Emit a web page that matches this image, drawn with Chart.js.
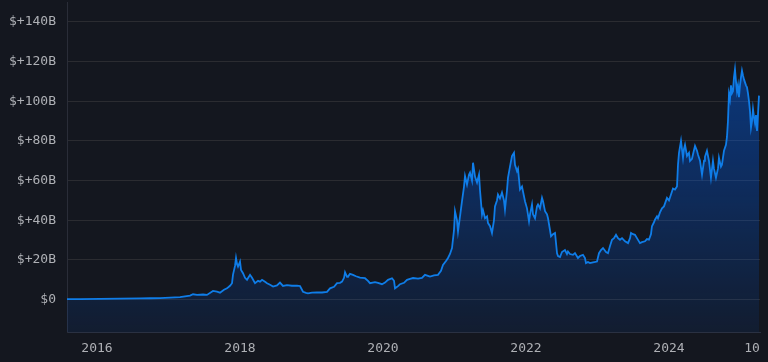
<!DOCTYPE html>
<html>
<head>
<meta charset="utf-8">
<script src="https://cdn.jsdelivr.net/npm/chart.js@4/dist/chart.umd.min.js"></script>
<style>
html,body{margin:0;padding:0;background:#14171f;}
canvas{display:block;}
</style>
</head>
<body>
<canvas id="c" width="768" height="362"></canvas>
<script>
// x positions, in decimal years
const pxX = [67,80,100,120,140,150,160,170,180,190,193,197,203,207,213,217,220,224,227,230,232,233,235,236,237,238,240,241,243,245,247,250,252,255,258,260,262,265,267,270,273,277,280,283,287,292,297,300,303,306,308,312,317,322,327,330,334,337,340,342,344,345,347,348,350,353,356,360,365,368,370,375,378,382,385,388,392,394,395,398,400,404,407,410,413,418,422,425,428,430,434,438,441,443,446,448,450,452,454,455,457,458,460,462,464,465,467,469,470,472,473,475,477,479,480,482,483,485,487,488,490,492,494,495,497,498,500,502,504,505,507,508,510,512,514,515,517,518,520,522,525,527,529,530,532,533,535,537,538,540,542,543,545,547,548,549,551,553,555,557,558,560,562,565,567,568,570,573,575,578,580,583,585,586,588,590,593,597,599,601,603,606,608,610,612,614,616,618,620,622,625,628,630,631,633,635,637,640,642,645,647,649,651,652,654,655,657,658,660,662,664,667,669,671,673,675,677,678,679,681,683,684,685,687,689,690,692,693,695,697,698,700,702,704,705,707,709,711,713,714,716,718,719,721,722,724,726,727,728,729,730,731,732,733,734,735,736,737,738,739,740,741,742,743,744,746,747,748,749,750,751,752,753,754,755,756,757,758,759];
const dates = pxX.map(p => +(2016 + (p - 97) / 71.5).toFixed(3));
// values in $B
const values = [0.3,0.3,0.4,0.5,0.6,0.7,0.8,1.0,1.3,2.0,2.7,2.4,2.6,2.4,4.4,4.0,3.5,5.0,5.7,7.0,8.3,12.6,17,21,18,16.7,19.2,15,13.3,11,10,12.5,11,8.3,9.5,9.1,10,9,8.3,7.5,6.6,7.2,8.6,6.9,7.3,7.0,7.1,6.9,4.0,3.4,3.2,3.5,3.7,3.6,3.9,5.7,6.5,8.3,8.5,9.1,11,13.8,11.5,11.6,13,12.5,11.8,11.1,10.8,9.5,8.3,8.8,8.5,7.8,8.6,10,10.8,9.5,5.7,6.8,7.8,8.5,10,10.5,10.9,10.6,11,12.5,12,11.6,12.2,12.5,14.5,17.5,19.5,21,23,26,35,44.6,40,34.4,42,49.6,57,62.3,58,63,64,60,69,62,59,63,55,42.9,45,41,42,38.6,37,33.6,40,47,50,53,51,54,50,45.4,55,61.4,67,72.4,74,68,64.8,66,55.5,57,49.6,46,39.5,43,48,43,41,47,48,46,51.3,49.6,44.6,43,41,38,31.9,33,33.6,23.4,22,21.5,24,25,23,24.3,23,22.6,23.5,21,22,22.6,21,18.4,19,18.4,18.8,19.2,23.4,25,26,24,23.4,27,30.2,31,32.7,31,30.2,31,29.4,28.5,31,33.6,33,32.7,31,28.5,29,29.4,30.5,30.2,33,37,39,40.3,42,41,44,46,47,51.3,50,53,56,55.5,57,68,74,80,71.5,76,78,72.4,74,69.9,71,73.3,77.5,75,73,70,63,70,72,75,70,61.4,70,66,61.4,66,71.5,67,68,75,78,82,90,103.6,101,108,104,105,112,116,110,105,108,102,108,112,115.4,113,111,108,107,104,100,95,86.7,90,96,92,89,93,85,93.5,102.8];
const yTicks = [0,20,40,60,80,100,120,140];
const xTicks = [2016,2018,2020,2022,2024,2025.161];
const xTickLabels = ['2016','2018','2020','2022','2024','10'];

const ctx = document.getElementById('c').getContext('2d');
const FONT = {family: '"DejaVu Sans Mono", monospace', size: 13};
new Chart(ctx, {
  type: 'line',
  data: {
    datasets: [{
      data: dates.map((d, i) => ({x: d, y: values[i]})),
      borderColor: '#0f7de8',
      borderWidth: 1.8,
      pointRadius: 0,
      tension: 0,
      fill: 'start',
      backgroundColor: (c) => {
        const a = c.chart.chartArea;
        if (!a) return 'rgba(0,100,255,0.2)';
        const g = c.chart.ctx.createLinearGradient(0, a.top, 0, a.bottom);
        g.addColorStop(0, 'rgba(0,105,255,0.48)');
        g.addColorStop(0.5, 'rgba(0,100,255,0.3)');
        g.addColorStop(1, 'rgba(0,100,255,0.08)');
        return g;
      }
    }]
  },
  options: {
    responsive: false,
    devicePixelRatio: 1,
    animation: false,
    layout: {padding: {top: 2, right: 8, left: 0, bottom: 0}},
    plugins: {legend: {display: false}, tooltip: {enabled: false}},
    scales: {
      x: {
        type: 'linear',
        min: 2015.58,
        max: 2025.273,
        afterBuildTicks: (s) => { s.ticks = xTicks.map(v => ({value: v})); },
        afterFit: (s) => { s.height = 30; s.paddingLeft = 0; s.paddingRight = 0; },
        grid: {display: false, drawTicks: false},
        border: {display: true, color: '#2a3142', width: 1},
        ticks: {
          color: '#aeb0b5', font: FONT, padding: 9, maxRotation: 0, autoSkip: false,
          callback: (v, i) => xTickLabels[i]
        }
      },
      y: {
        min: -16.3,
        max: 150,
        afterBuildTicks: (s) => { s.ticks = yTicks.map(v => ({value: v})); },
        afterFit: (s) => { s.width = 67; s.paddingTop = 0; s.paddingBottom = 0; },
        grid: {color: '#2b2c31', drawTicks: false, lineWidth: 1},
        border: {display: true, color: '#2a2d38', width: 1},
        ticks: {
          color: '#aeb0b5', font: FONT, padding: 11,
          callback: (v) => v === 0 ? '$0' : '$+' + v + 'B'
        }
      }
    }
  }
});
</script>
</body>
</html>
